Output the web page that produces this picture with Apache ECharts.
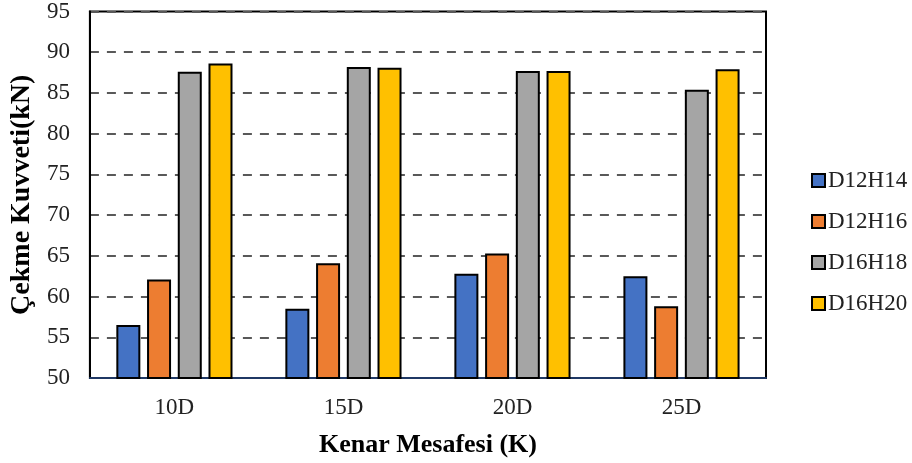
<!DOCTYPE html>
<html><head><meta charset="utf-8">
<script src="https://cdn.jsdelivr.net/npm/echarts@6/dist/echarts.min.js"></script>
<style>html,body{margin:0;padding:0;background:#fff}#c{width:912px;height:463px}</style>
</head><body><div id="c"></div>
<script>
const categories = ['10D', '15D', '20D', '25D'];
const seriesNames = ['D12H14', 'D12H16', 'D16H18', 'D16H20'];
const d12h14 = [56.5, 58.5, 62.8, 62.5];
const d12h16 = [62.1, 64.1, 65.3, 58.8];
const d16h18 = [87.6, 88.2, 87.7, 85.4];
const d16h20 = [88.6, 88.1, 87.7, 87.9];
const yTicks = [50, 55, 60, 65, 70, 75, 80, 85, 90, 95];
const colors = ['#4472C4', '#ED7D31', '#A5A5A5', '#FFC000'];
const values = [d12h14, d12h16, d16h18, d16h20];
const font = '"Liberation Serif", "Times New Roman", serif';

const chart = echarts.init(document.getElementById('c'));
chart.setOption({
  animation: false,
  textStyle: { fontFamily: font },
  grid: { left: 88, right: 146, top: 11, bottom: 85, show: true, borderColor: '#000', borderWidth: 2, backgroundColor: '#fff' },
  legend: {
    orient: 'vertical', left: 806, top: 164, itemWidth: 13, itemHeight: 13, itemGap: 18,
    icon: 'rect',
    itemStyle: { borderColor: '#000', borderWidth: 2 },
    textStyle: { fontFamily: font, fontSize: 23, color: '#222', padding: [0, 0, 0, -2] },
    data: seriesNames
  },
  xAxis: {
    type: 'category', data: categories,
    name: 'Kenar Mesafesi (K)', nameLocation: 'middle', nameGap: 54,
    nameTextStyle: { fontFamily: font, fontSize: 26, fontWeight: 'bold', color: '#000' },
    axisLine: { lineStyle: { color: '#1F3864', width: 2 } },
    axisTick: { show: false },
    axisLabel: { fontFamily: font, fontSize: 23, color: '#222', margin: 18 }
  },
  yAxis: {
    type: 'value', min: yTicks[0], max: yTicks[yTicks.length - 1], interval: 5,
    name: 'Çekme Kuvveti(kN)', nameLocation: 'middle', nameGap: 52,
    nameTextStyle: { fontFamily: font, fontSize: 28, fontWeight: 'bold', color: '#000' },
    axisLine: { show: true, lineStyle: { color: '#000', width: 2 } },
    axisTick: { show: false },
    axisLabel: { fontFamily: font, fontSize: 23, color: '#222', margin: 20 },
    splitLine: { lineStyle: { color: '#595959', width: 2, type: [9, 8] } }
  },
  series: seriesNames.map((n, i) => ({
    name: n, type: 'bar', data: values[i],
    barWidth: 24, barGap: '28%',
    itemStyle: { color: colors[i], borderColor: '#000', borderWidth: 2 }
  }))
});
</script></body></html>
